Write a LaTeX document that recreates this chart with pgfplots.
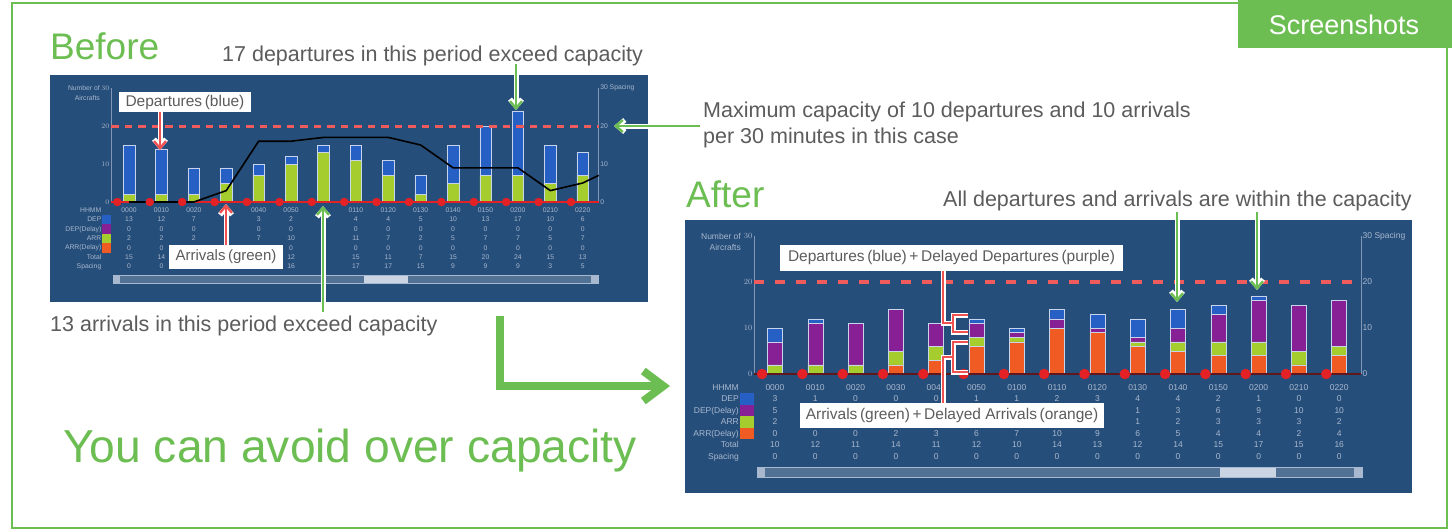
\documentclass[border=0pt]{standalone}
\usepackage{pgfplots}
\pgfplotsset{compat=1.18}
\usepackage{pgfplotstable}
\usepackage{fontspec}
\setmainfont{Liberation Sans}
\usetikzlibrary{arrows.meta}
\definecolor{bg}{RGB}{38,78,122}
\definecolor{gfr}{RGB}{108,190,82}
\definecolor{cblue}{RGB}{38,96,196}
\definecolor{cpurple}{RGB}{134,32,148}
\definecolor{cgreen}{RGB}{165,205,45}
\definecolor{corange}{RGB}{240,90,35}
\definecolor{cred}{RGB}{228,34,38}
\definecolor{cdash}{RGB}{240,92,92}
\definecolor{cbrk}{RGB}{240,82,82}
\definecolor{ctext}{RGB}{168,184,206}
\definecolor{cax}{RGB}{130,150,182}
\definecolor{agray}{RGB}{92,92,92}
\definecolor{bedge}{RGB}{200,212,234}
\definecolor{cbase}{RGB}{95,22,28}

\pgfplotstableread{
x dep arr sp
0 13 2 0
1 12 2 0
2 7 2 0
3 4 5 3
4 3 7 16
5 2 10 16
6 2 13 17
7 4 11 17
8 4 7 17
9 5 2 15
10 10 5 9
11 13 7 9
12 17 7 9
13 10 5 3
14 6 7 5
}\tbefore

\pgfplotstableread{
x dep depd arr arrd
0 3 5 2 0
1 1 9 2 0
2 0 9 2 0
3 0 9 3 2
4 0 5 3 3
5 1 3 2 6
6 1 1 1 7
7 2 2 0 10
8 3 1 0 9
9 4 1 1 6
10 4 3 2 5
11 2 6 3 4
12 1 9 3 4
13 0 10 3 2
14 0 10 2 4
}\tafter

\newcommand{\fB}{\fontsize{6.8}{9.4}\selectfont}
\newcommand{\fA}{\fontsize{8.5}{11.5}\selectfont}
\newcommand{\sqb}[1]{\textcolor{#1}{\rule[-2.6pt]{8.5pt}{9.4pt}}}
\newcommand{\sqa}[1]{\textcolor{#1}{\rule[-3.2pt]{14pt}{11.5pt}}}
\newcommand{\padb}{\rule{9.5pt}{0pt}}
\newcommand{\pada}{\rule{15pt}{0pt}}
\newcommand{\bl}{\phantom{0}}

\begin{document}
\begin{tikzpicture}
\path[use as bounding box] (0,0) rectangle (1452pt,-531pt);

% ---------------- background decoration ----------------
\begin{scope}[x=1pt,y=-1pt]
\fill[white] (0,0) rectangle (1452,531);
\draw[gfr, line width=2.5pt] (1238,3) -- (12,3) -- (12,528) -- (1447,528) -- (1447,48);
\fill[gfr] (1238,0) rectangle (1452,48);
\node[anchor=base, font=\fontsize{27}{30}\selectfont, text=white, inner sep=0] at (1344,34) {Screenshots};

\node[anchor=base west, font=\fontsize{37}{40}\selectfont, text=gfr, inner sep=0] at (50,59) {Before};
\node[anchor=base west, font=\fontsize{21.5}{24}\selectfont, text=agray, inner sep=0] at (222,61) {17 departures in this period exceed capacity};
\node[anchor=base west, font=\fontsize{21.5}{24}\selectfont, text=agray, inner sep=0] at (703,117) {Maximum capacity of 10 departures and 10 arrivals};
\node[anchor=base west, font=\fontsize{21.5}{24}\selectfont, text=agray, inner sep=0] at (703,143) {per 30 minutes in this case};
\node[anchor=base west, font=\fontsize{21.5}{24}\selectfont, text=agray, inner sep=0] at (50,331) {13 arrivals in this period exceed capacity};
\node[anchor=base west, font=\fontsize{37}{40}\selectfont, text=gfr, inner sep=0] at (686,207) {After};
\node[anchor=base west, font=\fontsize{21.5}{24}\selectfont, text=agray, inner sep=0] at (943,206) {All departures and arrivals are within the capacity};
\node[anchor=base west, font=\fontsize{46.2}{50}\selectfont, text=gfr, inner sep=0] at (63,462) {You can avoid over capacity};

% panels
\fill[bg] (50,75) rectangle (648,302);
\fill[bg] (685,220) rectangle (1412,493);
% scrollbars
\draw[ctext, fill=bg!80!white, line width=0.6pt] (113,275) rectangle (598,283);
\fill[ctext!60!white] (364,275.5) rectangle (408,282.5);
\fill[ctext] (113,275) rectangle (120,283);
\fill[ctext] (591,275) rectangle (598,283);
\draw[ctext, fill=bg!80!white, line width=0.6pt] (757,467) rectangle (1362,477);
\fill[ctext!60!white] (1220,467.5) rectangle (1276,476.5);
\fill[ctext] (757,467) rectangle (765,477);
\fill[ctext] (1354,467) rectangle (1362,477);
\end{scope}

% ---------------- BEFORE chart ----------------
\begin{axis}[
  at={(111pt,-202pt)}, anchor=south west,
  scale only axis, width=487.6pt, height=114pt,
  xmin=-0.556, xmax=14.49, ymin=0, ymax=30,
  ybar stacked, bar width=11.5pt,
  axis x line*=bottom, axis y line*=left,
  x axis line style={draw=none},
  y axis line style={draw=cax, line width=0.6pt},
  major tick length=0pt,
  ytick={0,10,20,30},
  yticklabel style={font=\fB, text=ctext, inner sep=1.5pt},
  xtick={0,...,14},
  xticklabels={{0000\\13\\0\\2\\0\\15\\0},{0010\\12\\0\\2\\0\\14\\0},{0020\\7\\0\\2\\\bl\\\bl\\\bl},{\bl\\\bl\\\bl\\\bl\\\bl\\\bl\\\bl},{0040\\3\\0\\7\\\bl\\\bl\\\bl},{0050\\2\\0\\10\\0\\12\\16},{\bl\\\bl\\\bl\\\bl\\\bl\\\bl\\\bl},{0110\\4\\0\\11\\0\\15\\17},{0120\\4\\0\\7\\0\\11\\17},{0130\\5\\0\\2\\0\\7\\15},{0140\\10\\0\\5\\0\\15\\9},{0150\\13\\0\\7\\0\\20\\9},{0200\\17\\0\\7\\0\\24\\9},{0210\\10\\0\\5\\0\\15\\3},{0220\\6\\0\\7\\0\\13\\5}},
  xticklabel style={align=center, font=\fB, text=ctext, inner sep=0pt, anchor=north, yshift=-5.5pt},
  clip=false,
]
\addplot[fill=cgreen, draw=bedge, line width=0.5pt] table[x=x,y=arr]{\tbefore};
\addplot[fill=cblue, draw=bedge, line width=0.5pt] table[x=x,y=dep]{\tbefore};
\node[anchor=north east, align=right, font=\fB, text=ctext, inner sep=0pt] at ([yshift=-5.5pt]rel axis cs:0,0)
  {HHMM\padb\\DEP\hspace{1pt}\sqb{cblue}\\DEP(Delay)\hspace{1pt}\sqb{cpurple}\\ARR\hspace{1pt}\sqb{cgreen}\\ARR(Delay)\hspace{1pt}\sqb{corange}\\Total\padb\\Spacing\padb};
\node[anchor=north east, align=right, font=\fB, text=ctext, inner sep=0pt] at ([xshift=-11pt,yshift=2.5pt]rel axis cs:0,1) {Number of\\Aircrafts};
\end{axis}

\begin{axis}[
  at={(111pt,-202pt)}, anchor=south west,
  scale only axis, width=487.6pt, height=114pt,
  xmin=-0.556, xmax=14.49, ymin=0, ymax=30,
  axis x line=none, axis y line*=right,
  y axis line style={draw=cax, line width=0.6pt},
  major tick length=0pt,
  ytick={0,10,20,30}, yticklabels={0,10,20,{30 Spacing}},
  yticklabel style={font=\fB, text=ctext, inner sep=1.5pt, anchor=west},
  clip=false,
]
\addplot[cdash, line width=3pt, dash pattern=on 7.5pt off 6pt] coordinates {(-0.556,20) (14.49,20)};
\addplot[cred, line width=1.5pt] coordinates {(-0.556,0) (14.49,0)};
\addplot[black, line width=1.6pt] table[x=x,y=sp]{\tbefore};
\addplot[black, line width=1.6pt] coordinates {(14,5) (14.49,7)};
\addplot[only marks, mark=*, mark size=4pt, mark options={draw=cred, fill=cred}] coordinates {(-0.36,0) (0.64,0) (1.64,0) (2.64,0) (3.64,0) (4.64,0) (5.64,0) (6.64,0) (7.64,0) (8.64,0) (9.64,0) (10.64,0) (11.64,0) (12.64,0) (13.64,0)};
\end{axis}

% ---------------- AFTER chart ----------------
\begin{axis}[
  at={(754pt,-374pt)}, anchor=south west,
  scale only axis, width=607pt, height=138pt,
  xmin=-0.52, xmax=14.54, ymin=0, ymax=30,
  ybar stacked, bar width=15pt,
  axis x line*=bottom, axis y line*=left,
  x axis line style={draw=none},
  y axis line style={draw=cax, line width=0.6pt},
  major tick length=0pt,
  ytick={0,10,20,30},
  yticklabel style={font=\fA, text=ctext, inner sep=1.5pt},
  xtick={0,...,14},
  xticklabels={{0000\\3\\5\\2\\0\\10\\0},{0010\\1\\\bl\\\bl\\0\\12\\0},{0020\\0\\\bl\\\bl\\0\\11\\0},{0030\\0\\\bl\\\bl\\2\\14\\0},{0040\\0\\\bl\\\bl\\3\\11\\0},{0050\\1\\\bl\\\bl\\6\\12\\0},{0100\\1\\\bl\\\bl\\7\\10\\0},{0110\\2\\\bl\\\bl\\10\\14\\0},{0120\\3\\\bl\\\bl\\9\\13\\0},{0130\\4\\1\\1\\6\\12\\0},{0140\\4\\3\\2\\5\\14\\0},{0150\\2\\6\\3\\4\\15\\0},{0200\\1\\9\\3\\4\\17\\0},{0210\\0\\10\\3\\2\\15\\0},{0220\\0\\10\\2\\4\\16\\0}},
  xticklabel style={align=center, font=\fA, text=ctext, inner sep=0pt, anchor=north, yshift=-10pt},
  clip=false,
]
\addplot[fill=corange, draw=bedge, line width=0.5pt] table[x=x,y=arrd]{\tafter};
\addplot[fill=cgreen, draw=bedge, line width=0.5pt] table[x=x,y=arr]{\tafter};
\addplot[fill=cpurple, draw=bedge, line width=0.5pt] table[x=x,y=depd]{\tafter};
\addplot[fill=cblue, draw=bedge, line width=0.5pt] table[x=x,y=dep]{\tafter};
\node[anchor=north east, align=right, font=\fA, text=ctext, inner sep=0pt] at ([yshift=-10pt]rel axis cs:0,0)
  {HHMM\pada\\DEP\hspace{1pt}\sqa{cblue}\\DEP(Delay)\hspace{1pt}\sqa{cpurple}\\ARR\hspace{1pt}\sqa{cgreen}\\ARR(Delay)\hspace{1pt}\sqa{corange}\\Total\pada\\Spacing\pada};
\node[anchor=north east, align=right, font=\fA, text=ctext, inner sep=0pt] at ([xshift=-13pt,yshift=3pt]rel axis cs:0,1) {Number of\\Aircrafts};
\end{axis}

\begin{axis}[
  at={(754pt,-374pt)}, anchor=south west,
  scale only axis, width=607pt, height=138pt,
  xmin=-0.52, xmax=14.54, ymin=0, ymax=30,
  axis x line=none, axis y line*=right,
  y axis line style={draw=cax, line width=0.6pt},
  major tick length=0pt,
  ytick={0,10,20,30}, yticklabels={0,10,20,{30 Spacing}},
  yticklabel style={font=\fA, text=ctext, inner sep=1.5pt, anchor=west},
  clip=false,
]
\addplot[cdash, line width=3.5pt, dash pattern=on 10pt off 11pt] coordinates {(-0.52,20) (14.54,20)};
\addplot[cbase, line width=1.6pt] coordinates {(-0.52,0) (14.54,0)};
\addplot[only marks, mark=*, mark size=5pt, mark options={draw=cred, fill=cred}] coordinates {(-0.32,0) (0.68,0) (1.68,0) (2.68,0) (3.68,0) (4.68,0) (5.68,0) (6.68,0) (7.68,0) (8.68,0) (9.68,0) (10.68,0) (11.68,0) (12.68,0) (13.68,0)};
\end{axis}

% ---------------- annotations ----------------
\begin{scope}[x=1pt,y=-1pt]
% big L arrow
\draw[gfr, line width=8pt, line join=miter, -{Straight Barb[length=20pt,width=30pt]}] (500,316) -- (500,386) -- (670,386);

% green arrows
\foreach \a/\b in {{(516,64)}/{(516,110)}, {(700,126)}/{(614,126)}, {(323,312)}/{(323,206)}, {(1177,212)}/{(1177,302)}, {(1257,212)}/{(1257,290)}}{
  \draw[white, line width=5pt, -{Straight Barb[length=7pt,width=12pt]}] \a -- \b;
  \draw[gfr, line width=2.4pt, -{Straight Barb[length=7pt,width=12pt]}] \a -- \b;
}
% red arrows
\foreach \a/\b in {{(160,110)}/{(160,150)}, {(226,246)}/{(226,204)}}{
  \draw[white, line width=5pt, -{Straight Barb[length=7pt,width=12pt]}] \a -- \b;
  \draw[cbrk, line width=2.4pt, -{Straight Barb[length=7pt,width=12pt]}] \a -- \b;
}
% brackets
\draw[white, line width=5pt, line join=miter] (943,271) -- (943,323) -- (953,323);
\draw[white, line width=5pt, line join=miter] (968,315) -- (953,315) -- (953,332) -- (968,332);
\draw[white, line width=5pt, line join=miter] (943,403) -- (943,357) -- (953,357);
\draw[white, line width=5pt, line join=miter] (968,342) -- (953,342) -- (953,372) -- (968,372);
\draw[cbrk, line width=2.4pt, line join=miter] (943,271) -- (943,323) -- (953,323);
\draw[cbrk, line width=2.4pt, line join=miter] (968,315) -- (953,315) -- (953,332) -- (968,332);
\draw[cbrk, line width=2.4pt, line join=miter] (943,403) -- (943,357) -- (953,357);
\draw[cbrk, line width=2.4pt, line join=miter] (968,342) -- (953,342) -- (953,372) -- (968,372);

% label boxes
\node[fill=white, inner sep=0, minimum width=132pt, minimum height=20pt, font=\fontsize{15.5}{17}\selectfont, text=agray] at (185,102) {Departures\,(blue)};
\node[fill=white, inner sep=0, minimum width=114pt, minimum height=24pt, font=\fontsize{15}{17}\selectfont, text=agray] at (226,257) {Arrivals\,(green)};
\node[fill=white, inner sep=0, minimum width=343pt, minimum height=26pt, font=\fontsize{15.5}{17}\selectfont, text=agray] at (951.5,257.5) {Departures\,(blue)\,+\,Delayed Departures\,(purple)};
\node[fill=white, inner sep=0, minimum width=304pt, minimum height=25pt, font=\fontsize{15.5}{17}\selectfont, text=agray] at (952,415.5) {Arrivals\,(green)\,+\,Delayed Arrivals\,(orange)};
\end{scope}
\end{tikzpicture}
\end{document}
